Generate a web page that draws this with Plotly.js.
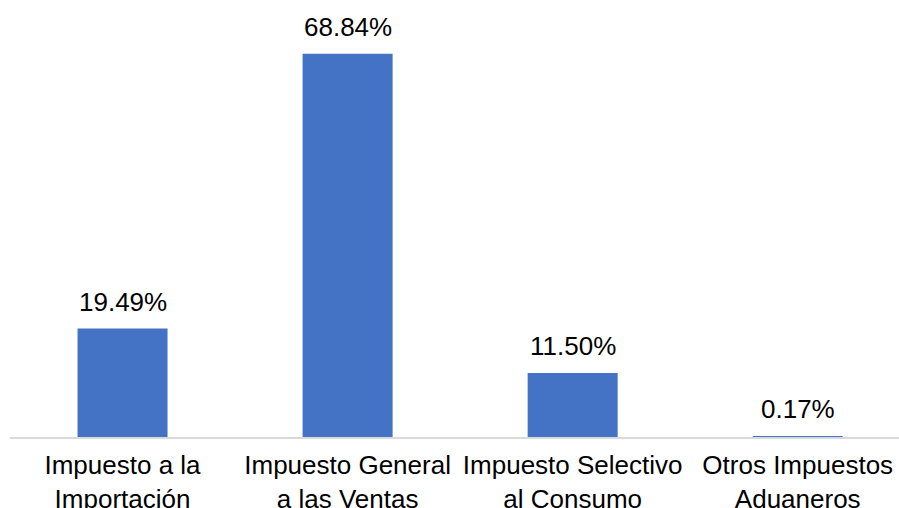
<!DOCTYPE html>
<html>
<head>
<meta charset="utf-8">
<script src="https://cdn.plot.ly/plotly-3.0.1.min.js"></script>
<style>html,body{margin:0;padding:0;background:#fff;}#chart{width:899px;height:508px;}</style>
</head>
<body>
<div id="chart"></div>
<script>
const categories = ["Impuesto a la<br>Importación", "Impuesto General<br>a las Ventas", "Impuesto Selectivo<br>al Consumo", "Otros Impuestos<br>Aduaneros"];
const values = [19.49, 68.84, 11.50, 0.17];
const labels = ["19.49%", "68.84%", "11.50%", "0.17%"];

const font = "Liberation Sans, Arial, sans-serif";
const trace = {
  type: "bar",
  x: [0, 1, 2, 3],
  y: values,
  width: 0.4,
  marker: {color: "#4472C4"},
  hoverinfo: "skip"
};
const annotations = values.map((v, i) => ({
  x: i, y: v, xref: "x", yref: "y",
  text: labels[i], showarrow: false,
  yanchor: "bottom", yshift: 10,
  font: {family: font, size: 26, color: "#000"}
}));
const layout = {
  width: 899, height: 508,
  margin: {l: 10, r: 0, t: 0, b: 71},
  paper_bgcolor: "#fff", plot_bgcolor: "#fff",
  showlegend: false,
  xaxis: {
    range: [-0.5, 3.45],
    tickmode: "array", tickvals: [0, 1, 2, 3], ticktext: categories,
    showline: true, linecolor: "#d9d9d9", linewidth: 2,
    ticks: "", showgrid: false, zeroline: false,
    ticklabelstandoff: 4,
    tickfont: {family: font, size: 26, color: "#000"},
    fixedrange: true
  },
  yaxis: {
    range: [0, 78.5], visible: false, showgrid: false, zeroline: false, fixedrange: true
  },
  annotations: annotations
};
Plotly.newPlot("chart", [trace], layout, {displayModeBar: false, staticPlot: true});
</script>
</body>
</html>
